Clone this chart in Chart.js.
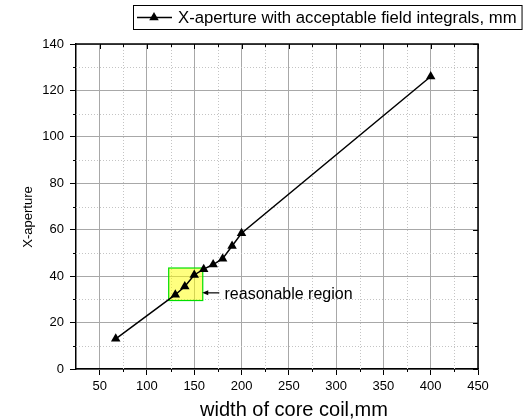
<!DOCTYPE html>
<html>
<head>
<meta charset="utf-8">
<script src="https://cdn.jsdelivr.net/npm/chart.js@4/dist/chart.umd.min.js"></script>
<style>
  body { margin: 0; background: #fff; }
  canvas { display: block; }
</style>
</head>
<body>
<canvas id="coil" width="529" height="420"></canvas>
<script>
// values
var coilWidth = [67, 130, 140, 150, 160, 170, 180, 190, 200, 400];
var xAperture = [13, 32, 35.5, 40.5, 43, 45, 47.5, 53, 58.5, 126];
var seriesLabel = "X-aperture with acceptable field integrals, mm";

var xTicks = [50, 100, 150, 200, 250, 300, 350, 400, 450];
var xMinor = [75, 125, 175, 225, 275, 325, 375, 425];
var yTicks = [0, 20, 40, 60, 80, 100, 120, 140];
var yMinor = [10, 30, 50, 70, 90, 110, 130];

// highlighted box and its note (data units)
var regionX = [123, 159];
var regionY = [29.5, 43.5];
var noteText = "reasonable region";
var noteArrow = [[176.5, 32.8], [158.5, 32.8]];
var noteAt = [182, 30.2];

var FONT = "'Liberation Sans', Arial, sans-serif";

function tri(ctx, x, y, r) {
	ctx.beginPath();
	ctx.moveTo(x, y - r);
	ctx.lineTo(x + r * 0.866, y + r * 0.5);
	ctx.lineTo(x - r * 0.866, y + r * 0.5);
	ctx.closePath();
	ctx.fill();
}

var extras = {
	id: 'extras',
	beforeDatasetsDraw: function(chart) {
		var ctx = chart.ctx, a = chart.chartArea, x = chart.scales.x, y = chart.scales.y;
		ctx.save();
		// minor dotted grid
		ctx.strokeStyle = '#c4c4c4';
		ctx.lineWidth = 1;
		ctx.setLineDash([1, 2]);
		xMinor.forEach(function(v) {
			var px = Math.round(x.getPixelForValue(v)) + 0.5;
			ctx.beginPath(); ctx.moveTo(px, a.top); ctx.lineTo(px, a.bottom); ctx.stroke();
		});
		yMinor.forEach(function(v) {
			var py = Math.round(y.getPixelForValue(v)) + 0.5;
			ctx.beginPath(); ctx.moveTo(a.left, py); ctx.lineTo(a.right, py); ctx.stroke();
		});
		ctx.setLineDash([]);
		// region box
		var x0 = x.getPixelForValue(regionX[0]), x1 = x.getPixelForValue(regionX[1]);
		var y0 = y.getPixelForValue(regionY[1]), y1 = y.getPixelForValue(regionY[0]);
		ctx.fillStyle = 'rgba(255,255,0,0.5)';
		ctx.fillRect(x0, y0, x1 - x0, y1 - y0);
		ctx.strokeStyle = '#00e000';
		ctx.lineWidth = 1.2;
		ctx.strokeRect(x0, y0, x1 - x0, y1 - y0);
		ctx.restore();
	},
	afterDraw: function(chart) {
		var ctx = chart.ctx, a = chart.chartArea, x = chart.scales.x, y = chart.scales.y;
		ctx.save();
		// frame top/right
		ctx.strokeStyle = '#000';
		ctx.lineWidth = 1.5;
		ctx.beginPath();
		ctx.moveTo(a.left, a.top); ctx.lineTo(a.right, a.top); ctx.lineTo(a.right, a.bottom);
		ctx.stroke();
		ctx.lineWidth = 1;
		xTicks.forEach(function(v) {
			var px = Math.round(x.getPixelForValue(v)) + 0.5;
			ctx.beginPath(); ctx.moveTo(px, a.top); ctx.lineTo(px, a.top + 5); ctx.stroke();
		});
		xMinor.forEach(function(v) {
			var px = Math.round(x.getPixelForValue(v)) + 0.5;
			ctx.beginPath(); ctx.moveTo(px, a.top); ctx.lineTo(px, a.top + 3); ctx.stroke();
			ctx.beginPath(); ctx.moveTo(px, a.bottom); ctx.lineTo(px, a.bottom + 3); ctx.stroke();
		});
		yTicks.forEach(function(v) {
			var py = Math.round(y.getPixelForValue(v)) + 0.5;
			ctx.beginPath(); ctx.moveTo(a.right, py); ctx.lineTo(a.right - 5, py); ctx.stroke();
		});
		yMinor.forEach(function(v) {
			var py = Math.round(y.getPixelForValue(v)) + 0.5;
			ctx.beginPath(); ctx.moveTo(a.right, py); ctx.lineTo(a.right - 3, py); ctx.stroke();
			ctx.beginPath(); ctx.moveTo(a.left, py); ctx.lineTo(a.left - 3, py); ctx.stroke();
		});

		// note arrow + text
		var ax0 = x.getPixelForValue(noteArrow[0][0]), ay = y.getPixelForValue(noteArrow[0][1]);
		var ax1 = x.getPixelForValue(noteArrow[1][0]);
		ctx.fillStyle = '#000';
		ctx.lineWidth = 1.2;
		ctx.beginPath(); ctx.moveTo(ax0, ay); ctx.lineTo(ax1 + 4, ay); ctx.stroke();
		ctx.beginPath(); ctx.moveTo(ax1, ay); ctx.lineTo(ax1 + 6, ay - 2.5); ctx.lineTo(ax1 + 6, ay + 2.5); ctx.closePath(); ctx.fill();
		ctx.font = '16px ' + FONT;
		ctx.textBaseline = 'alphabetic';
		ctx.textAlign = 'left';
		ctx.fillText(noteText, x.getPixelForValue(noteAt[0]), y.getPixelForValue(noteAt[1]));

		// axis titles
		ctx.font = '20px ' + FONT;
		ctx.textAlign = 'center';
		ctx.textBaseline = 'middle';
		ctx.fillText('width of core coil,mm', 294, 410);
		ctx.save();
		ctx.translate(28, 217);
		ctx.rotate(-Math.PI / 2);
		ctx.font = '13px ' + FONT;
		ctx.fillText('X-aperture', 0, 0);
		ctx.restore();

		// legend
		ctx.font = '16.7px ' + FONT;
		ctx.textAlign = 'left';
		var tw = ctx.measureText(seriesLabel).width;
		ctx.fillStyle = '#fff';
		ctx.fillRect(133.5, 5.5, tw + 50, 24);
		ctx.strokeStyle = '#000';
		ctx.lineWidth = 1;
		ctx.strokeRect(133.5, 5.5, tw + 50, 24);
		ctx.lineWidth = 1.5;
		ctx.beginPath(); ctx.moveTo(137, 17.5); ctx.lineTo(172, 17.5); ctx.stroke();
		ctx.fillStyle = '#000';
		tri(ctx, 154, 17.5, 5.5);
		ctx.fillText(seriesLabel, 178, 18);
		ctx.restore();
	}
};

var ctx = document.getElementById('coil').getContext('2d');
window.coilChart = new Chart(ctx, {
	type: 'line',
	data: {
		datasets: [{
			label: seriesLabel,
			data: coilWidth.map(function(v, i) { return { x: v, y: xAperture[i] }; }),
			borderColor: '#000',
			backgroundColor: '#000',
			borderWidth: 1.5,
			pointStyle: 'triangle',
			pointRadius: 5.5,
			pointBorderWidth: 0,
			tension: 0,
			fill: false
		}]
	},
	options: {
		responsive: false,
		animation: false,
		layout: { padding: { top: 44, right: 51, left: 0, bottom: 0 } },
		plugins: { legend: { display: false }, tooltip: { enabled: false } },
		scales: {
			x: {
				type: 'linear', min: 25, max: 450,
				afterBuildTicks: function(s) { s.ticks = xTicks.map(function(v) { return { value: v }; }); },
				afterFit: function(s) { s.height = 51; },
				ticks: { color: '#000', font: { family: FONT, size: 13 }, padding: 4, maxRotation: 0, autoSkip: false },
				grid: { color: '#a8a8a8', tickColor: '#000', tickLength: 6 },
				border: { color: '#000', width: 1.5 }
			},
			y: {
				type: 'linear', min: 0, max: 140,
				afterBuildTicks: function(s) { s.ticks = yTicks.map(function(v) { return { value: v }; }); },
				afterFit: function(s) { s.width = 76; },
				ticks: { color: '#000', font: { family: FONT, size: 13 }, padding: 6 },
				grid: { color: '#a8a8a8', tickColor: '#000', tickLength: 6 },
				border: { color: '#000', width: 1.5 }
			}
		}
	},
	plugins: [extras]
});
</script>
</body>
</html>
